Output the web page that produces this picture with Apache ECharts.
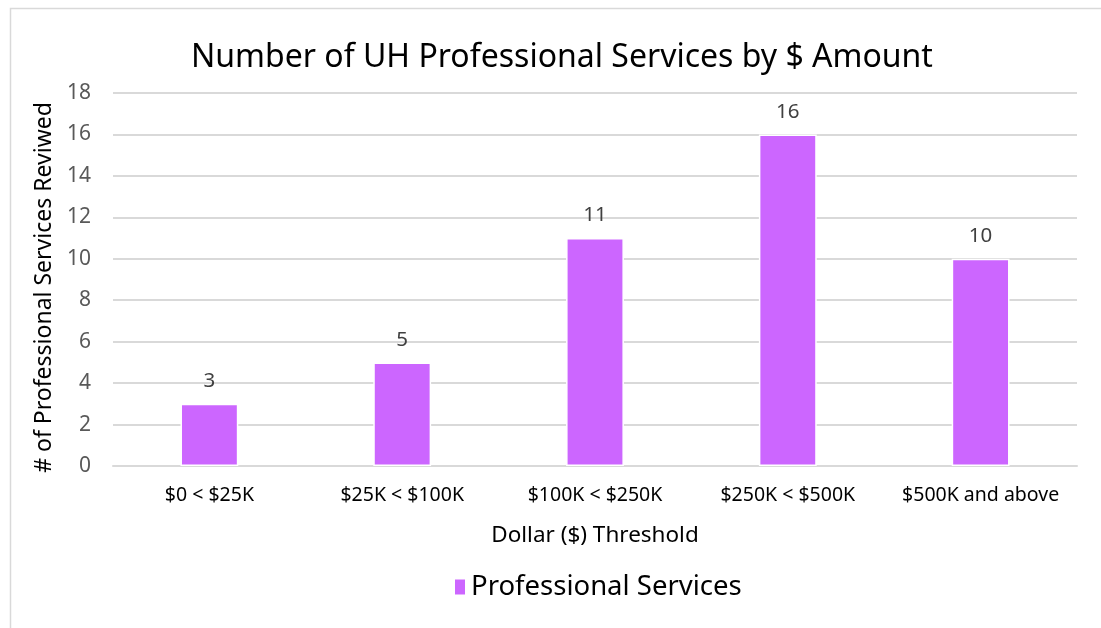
<!DOCTYPE html>
<html>
<head>
<meta charset="utf-8">
<script src="https://cdn.jsdelivr.net/npm/echarts@6/dist/echarts.min.js"></script>
<style>
  html, body { margin: 0; padding: 0; background: #fff; }
  #chart { width: 1101px; height: 628px; }
</style>
</head>
<body>
<div id="chart"></div>
<script>
var categories = ['$0 < $25K', '$25K < $100K', '$100K < $250K', '$250K < $500K', '$500K and above'];
var services = [3, 5, 11, 16, 10];
var yTicks = [0, 2, 4, 6, 8, 10, 12, 14, 16, 18];

var font = 'Noto Sans';
var chart = echarts.init(document.getElementById('chart'));

var option = {
	backgroundColor: '#fff',
	textStyle: { fontFamily: font },
	title: {
		text: 'Number of UH Professional Services by $ Amount',
		left: 186,
		top: 37,
		textStyle: { fontFamily: font, fontSize: 32, fontWeight: 'normal', color: '#000' }
	},
	graphic: [{
		type: 'rect',
		shape: { x: 10.5, y: 8.5, width: 1200, height: 700 },
		style: { fill: 'none', stroke: '#d9d9d9', lineWidth: 1.5 },
		silent: true
	}],
	legend: {
		bottom: 22,
		left: 448,
		itemWidth: 12,
		itemHeight: 17,
		itemGap: 12,
		icon: 'rect',
		textStyle: { fontFamily: font, fontSize: 27.5, color: '#000' },
		data: ['Professional Services']
	},
	grid: { left: 113, right: 24, top: 93, bottom: 162 },
	xAxis: {
		type: 'category',
		data: categories,
		name: 'Dollar ($) Threshold',
		nameLocation: 'middle',
		nameGap: 58,
		nameTextStyle: { fontFamily: font, fontSize: 22.5, color: '#000' },
		axisLine: { lineStyle: { color: '#d9d9d9', width: 2 } },
		axisTick: { show: false },
		axisLabel: { interval: 0, hideOverlap: false, fontFamily: font, fontSize: 19.5, color: '#000', margin: 19 }
	},
	yAxis: {
		type: 'value',
		min: yTicks[0],
		max: yTicks[yTicks.length - 1],
		interval: 2,
		name: '# of Professional Services Reviwed',
		nameLocation: 'middle',
		nameGap: 56,
		nameTextStyle: { fontFamily: font, fontSize: 23, color: '#000', padding: [0, 16, 0, 0] },
		axisLine: { show: false },
		axisTick: { show: false },
		axisLabel: { fontFamily: font, fontSize: 21, color: '#595959', margin: 22 },
		splitLine: { lineStyle: { color: '#d9d9d9', width: 2 } }
	},
	series: [{
		name: 'Professional Services',
		type: 'bar',
		data: services,
		barWidth: '30%',
		itemStyle: { color: '#cc66ff', borderColor: '#fff', borderWidth: 1.5 },
		label: {
			show: true,
			position: 'top',
			distance: 12,
			fontFamily: font,
			fontSize: 20.5,
			color: '#404040'
		}
	}]
};

chart.setOption(option);
</script>
</body>
</html>
